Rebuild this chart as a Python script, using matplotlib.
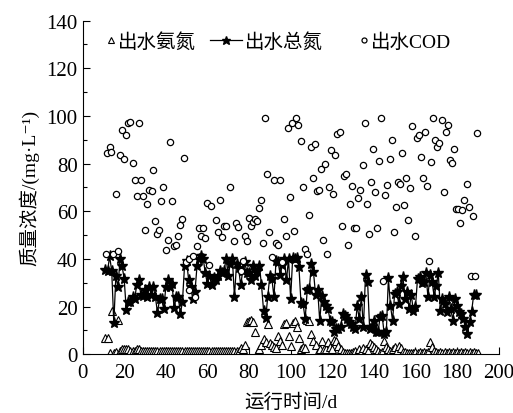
import numpy as np
import matplotlib.pyplot as plt
from matplotlib.legend_handler import HandlerLine2D

plt.rcParams['font.family'] = ['Liberation Serif', 'Noto Sans CJK SC', 'DejaVu Serif']

# 出水总氮 (day 11 .. 189)
tn_day = np.arange(11, 190)
tn_val = [35.5, 35, 41, 35, 13, 33, 28, 40, 37, 31.5,
          18.5, 22, 22, 24, 23, 29, 31, 25, 24.5, 27,
          24, 28, 25, 28, 24, 17.5, 23, 23, 19, 28,
          31, 28, 29.5, 19.5, 24, 24, 17, 22, 37, 39,
          31, 28, 23, 26, 37, 40, 41, 40, 34, 29.5,
          33, 29, 32, 31, 33, 35, 34, 35, 40, 33,
          38, 40, 24, 38, 36, 29, 35, 38.5, 34, 34,
          31, 37, 33, 35, 37, 29, 18.3, 15, 24, 33,
          31.6, 24, 39.3, 38.6, 33.3, 37.5, 40, 31, 40, 23.3,
          40.5, 40, 40.4, 36.5, 21.4, 21, 14.8, 27, 27.4, 37.9,
          34.4, 25, 27, 14, 24.6, 22, 20.4, 19, 14, 13.4,
          9.5, 10.6, 10.6, 11.3, 17, 16.2, 14.8, 13.4, 12.7, 11.3,
          10.6, 20.4, 14.8, 24.2, 11.3, 33.3, 30.5, 10.6, 11.3, 14.1,
          9.2, 9.2, 15.5, 16.2, 8.5, 9.2, 31.9, 20.4, 14.1, 25.3,
          26.3, 21.1, 28.8, 32.3, 23.2, 26, 19, 24.9, 18.3, 19.7,
          31.6, 32.3, 29.9, 30.5, 34, 24.2, 33.3, 30.5, 24.2, 28.8,
          34, 18.3, 23.2, 21.1, 17.6, 24.2, 19, 14.1, 23.2, 20.4,
          17.6, 16.9, 14.8, 11.3, 8.5, 13.4, 17.9, 24.9, 24.9]

# 出水氨氮 (day 11 .. 190)
nh_day = np.arange(11, 191)
nh_val = [7, 7, 0.5, 18, 0.5, 1, 14.5, 1.5, 2, 2,
          2, 2, 1.5, 1.5, 1.5, 2, 2, 1.5, 1.5, 1.5,
          1.2, 1.5, 1.2, 1.3, 1.2, 1.5, 1.2, 1.3, 1.2, 1.5,
          1.3, 1.2, 1.5, 1.2, 1.3, 1.2, 1.5, 1.2, 1.3, 1.2,
          1.5, 1.2, 1.3, 1.2, 1.5, 1.2, 1.3, 1.2, 1.5, 1.2,
          1.3, 1.2, 1.5, 1.2, 1.3, 1.2, 1.5, 1.2, 1.3, 1.5,
          1.2, 1.5, 1.2, 1.3, 1.2, 2.5, 2, 4, 13.5, 14,
          14.5, 13.5, 9.5, 0.5, 2, 4, 6.5, 5, 12.5, 4.5,
          4, 3, 2.5, 7.5, 5.5, 4, 12.5, 13, 7.5, 3.5,
          13, 14, 11.5, 7, 2, 3, 2.5, 14.5, 14, 8.5,
          5.5, 4, 1, 2, 5.5, 2, 2, 5, 3, 2,
          6, 5.5, 3.5, 2, 1, 0.5, 0.5, 0.5, 0.5, 1,
          1.5, 0.5, 2, 1, 2.5, 2, 1.5, 4.5, 4, 3,
          2, 1.5, 0.5, 1, 5.5, 3, 2, 1.5, 2, 3,
          1.5, 3.5, 2.5, 1, 1, 0.5, 0.5, 0.5, 0.5, 0.8,
          0.5, 0.8, 0.5, 0.8, 0.5, 0.8, 5, 3, 1.5, 0.8,
          0.5, 0.8, 0.5, 0.8, 0.5, 0.8, 0.5, 0.8, 0.5, 0.8,
          0.5, 0.8, 0.5, 0.8, 0.5, 0.8, 0.5, 0.8, 0.5, 0.5]

# 出水COD
cod_day = [11.2, 11.9, 13.1, 13.8, 14.7, 15.9, 17.0, 17.9, 18.9, 19.9,
           20.7, 21.9, 22.9, 24.0, 25.0, 26.0, 26.9, 27.9, 28.8, 29.8,
           30.9, 31.9, 33.2, 34.0, 34.9, 35.9, 36.9, 37.8, 38.8, 39.9,
           40.9, 41.8, 42.8, 43.8, 44.7, 45.8, 46.8, 47.9, 48.9, 49.8,
           51.0, 51.0, 52.9, 53.8, 55.0, 55.9, 56.9, 57.9, 58.8, 59.9,
           60.9, 61.9, 63.9, 64.9, 65.9, 66.8, 67.9, 68.9, 70.8, 72.9,
           73.9, 74.8, 76.0, 77.1, 78.0, 78.8, 80.1, 81.1, 82.1, 83.0,
           84.0, 84.9, 85.9, 86.9, 87.8, 88.8, 89.7, 90.9, 91.8, 92.8,
           93.9, 94.9, 95.8, 96.8, 97.8, 98.7, 99.8, 100.8, 101.8, 102.7,
           103.7, 104.8, 105.8, 106.7, 107.7, 108.7, 109.6, 110.6, 111.7, 112.7,
           113.6, 114.6, 115.7, 116.7, 117.6, 118.6, 119.6, 120.5, 121.5, 122.4,
           123.6, 124.7, 125.6, 126.6, 127.6, 128.5, 129.6, 130.6, 131.6, 132.5,
           133.5, 134.6, 135.6, 136.5, 137.5, 138.5, 139.6, 140.5, 141.5, 142.5,
           143.6, 144.6, 145.5, 146.5, 147.6, 148.6, 149.5, 150.5, 151.6, 152.6,
           153.5, 154.5, 155.6, 156.6, 157.5, 158.5, 159.6, 160.6, 161.5, 162.5,
           163.6, 164.6, 165.5, 166.5, 167.6, 168.6, 169.6, 170.5, 171.5, 172.6,
           173.6, 174.5, 175.5, 176.6, 177.6, 178.5, 179.5, 180.6, 181.6, 182.5,
           183.5, 184.6, 185.6, 186.5, 187.5, 188.6, 189.6]
cod_val = [42.2, 84.5, 87.1, 85.0, 42.1, 67.4, 43.2, 83.6, 94.1, 82.0,
           91.9, 96.9, 97.5, 80.1, 73.0, 66.4, 96.9, 73.1, 66.4, 52.3,
           63.2, 68.8, 68.5, 77.1, 56.1, 50.6, 52.0, 64.3, 70.1, 43.8,
           48.1, 89.1, 64.2, 45.5, 45.9, 49.5, 54.1, 56.8, 82.4, 38.6,
           40.1, 27.0, 41.3, 24.2, 45.6, 52.9, 49.5, 53.1, 48.7, 63.5,
           37.6, 62.1, 56.5, 51.2, 64.9, 49.0, 54.0, 54.0, 70.1, 47.3,
           55.1, 53.3, 35.1, 39.3, 49.8, 47.7, 57.1, 54.0, 55.4, 56.8,
           56.1, 61.3, 64.5, 46.6, 99.2, 75.7, 51.2, 40.6, 72.9, 46.6,
           45.9, 72.9, 38.6, 56.8, 49.8, 94.8, 65.9, 96.9, 51.6, 99.2,
           96.2, 89.5, 70.1, 44.1, 42.1, 58.2, 87.1, 74.0, 88.3, 68.3,
           69.1, 77.8, 48.1, 79.6, 42.0, 70.1, 85.7, 67.3, 83.6, 92.4,
           93.4, 54.0, 74.7, 75.7, 45.9, 63.1, 70.5, 52.9, 52.9, 65.5,
           68.7, 79.4, 96.9, 63.1, 50.5, 72.4, 86.2, 68.0, 52.9, 81.0,
           99.2, 30.9, 66.9, 71.0, 82.0, 89.8, 51.2, 61.7, 72.4, 71.5,
           84.3, 62.7, 74.0, 56.5, 69.7, 95.7, 49.5, 90.6, 92.0, 82.7,
           73.8, 93.1, 70.5, 39.3, 80.8, 99.2, 89.7, 86.9, 88.7, 98.2,
           68.0, 93.1, 96.2, 81.5, 80.3, 85.9, 61.0, 61.0, 55.1, 60.3,
           64.5, 71.3, 61.7, 33.0, 57.9, 33.0, 92.7]


class MarkerRight(HandlerLine2D):
    # marker-only entries: put the marker next to the text
    def create_artists(self, legend, orig_handle, xdescent, ydescent,
                       width, height, fontsize, trans):
        arts = super().create_artists(legend, orig_handle, xdescent, ydescent,
                                      width, height, fontsize, trans)
        for a in arts:
            xd = a.get_xdata()
            a.set_xdata([x + width * 0.38 for x in xd])
        return arts


fig = plt.figure(figsize=(5.13, 4.14), dpi=100)
ax = fig.add_axes([0.161, 0.142, 0.811, 0.806])

l_nh, = ax.plot(nh_day, nh_val, linestyle='none', marker='^', markersize=5.5,
                markerfacecolor='white', markeredgecolor='black', markeredgewidth=0.8,
                label='出水氨氮')
l_tn, = ax.plot(tn_day, tn_val, color='black', linewidth=0.9, marker='*', markersize=8,
                markerfacecolor='black', markeredgecolor='black', label='出水总氮')
l_cod, = ax.plot(cod_day, cod_val, linestyle='none', marker='o', markersize=4.5,
                 markerfacecolor='white', markeredgecolor='black', markeredgewidth=0.9,
                 label='出水COD')

ax.set_xlim(0, 200)
ax.set_ylim(0, 140)
ax.set_xticks(np.arange(0, 201, 20))
ax.set_yticks(np.arange(0, 141, 20))
ax.set_yticks(np.arange(0, 141, 10), minor=True)
ax.tick_params(direction='in', labelsize=15, length=5, width=0.8)
ax.tick_params(which='minor', direction='in', length=3, width=0.8)
ax.tick_params(axis='x', pad=6)
ax.spines['top'].set_visible(False)
ax.spines['right'].set_visible(False)

ax.set_xlabel('运行时间/d', fontsize=14, labelpad=8)
ax.set_ylabel('质量浓度/(mg·L⁻¹)', fontsize=14, labelpad=5)

ax.legend(loc='upper left', bbox_to_anchor=(-0.025, 1.0), ncol=3, frameon=False,
          fontsize=14, handlelength=1.6, handletextpad=0.15, columnspacing=0.75,
          borderaxespad=0.2, markerscale=0.8,
          handler_map={l_nh: MarkerRight(), l_cod: MarkerRight()})

fig.savefig('out.png', dpi=100)
